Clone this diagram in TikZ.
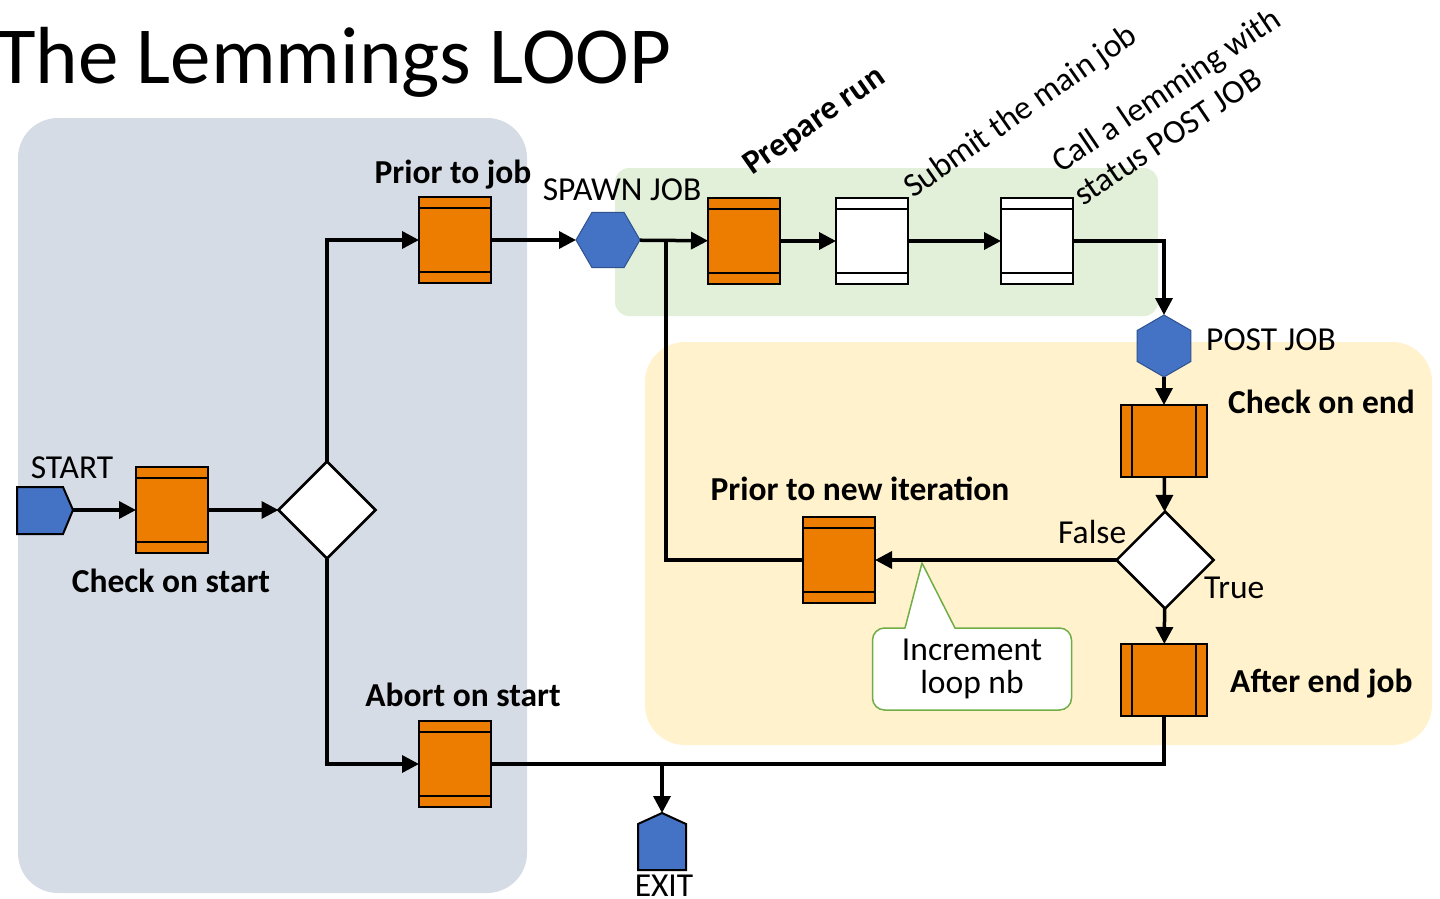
\documentclass[tikz,border=0pt]{standalone}
\usepackage{fontspec}
\setmainfont{Carlito}
\usetikzlibrary{arrows.meta,shapes.geometric}
\definecolor{panelblue}{RGB}{214,220,229}
\definecolor{panelgreen}{RGB}{226,240,217}
\definecolor{panelyellow}{RGB}{255,242,204}
\definecolor{procorange}{RGB}{237,125,0}
\definecolor{termblue}{RGB}{68,114,196}
\definecolor{termborder}{RGB}{47,82,143}
\definecolor{calloutgreen}{RGB}{112,173,71}
\begin{document}
\begin{tikzpicture}[x=1pt,y=-1pt,
  lbl/.style={font=\fontsize{33.5}{40}\selectfont, inner sep=0pt},
  blbl/.style={font=\bfseries\fontsize{33.5}{40}\selectfont, inner sep=0pt},
  proc/.style={rectangle, draw=black, line width=2.5pt, fill=procorange, inner sep=0pt, outer sep=0pt},
  hproc/.style={proc, minimum width=72pt, minimum height=86pt,
    path picture={\draw[line width=2.5pt]
      ([yshift=-11pt]path picture bounding box.north west) -- ([yshift=-11pt]path picture bounding box.north east)
      ([yshift=11pt]path picture bounding box.south west) -- ([yshift=11pt]path picture bounding box.south east);}},
  vproc/.style={proc, minimum width=86pt, minimum height=72pt,
    path picture={\draw[line width=2.5pt]
      ([xshift=11pt]path picture bounding box.north west) -- ([xshift=11pt]path picture bounding box.south west)
      ([xshift=-11pt]path picture bounding box.north east) -- ([xshift=-11pt]path picture bounding box.south east);}},
  whitebox/.style={hproc, fill=white},
  decision/.style={diamond, draw=black, line width=2.5pt, fill=white, minimum width=97pt, minimum height=97pt, inner sep=0pt, outer sep=0pt},
  hexa/.style={regular polygon, regular polygon sides=6, fill=termblue, draw=termborder, line width=1pt, inner sep=0pt, outer sep=0pt},
  term/.style={fill=termblue, draw=black, line width=2pt, line join=miter},
  arr/.style={line width=3.5pt, -{Triangle[length=17pt,width=17pt]}},
  ln/.style={line width=3.5pt},
  callout/.style={rectangle, rounded corners=12pt, draw=calloutgreen, line width=1.5pt, fill=white, minimum width=199pt, minimum height=82pt, align=center, font=\fontsize{33.5}{33}\selectfont}
]
\useasboundingbox (0,0) rectangle (1440,899);

% panels
\fill[panelblue, rounded corners=40pt] (18,118) rectangle (527,893);
\fill[panelgreen, rounded corners=14pt] (615,168) rectangle (1158,316);
\fill[panelyellow, rounded corners=40pt] (645,342) rectangle (1432,745);

% title
\node[anchor=base west, inner sep=0pt, font=\fontsize{81}{96}\selectfont] (title) at (-4,84) {The Lemmings LOOP};

% terminal shapes (START, EXIT)
\draw[term] (17,487) -- (63,487) -- (73,510) -- (63,534) -- (17,534) -- cycle;
\coordinate (start) at (73,510);
\draw[term] (638,870) -- (638,824) -- (662,813) -- (686,824) -- (686,870) -- cycle;
\coordinate (exit) at (662,813);

% nodes
\node[hproc] (cstart) at (172,510) {};
\node[decision] (d1) at (327,510) {};
\node[hproc] (prior) at (455,240) {};
\node[hproc] (abort) at (455,764) {};
\node[hexa, minimum size=64pt] (spawn) at (608,240) {};
\node[hproc] (prep) at (744,241) {};
\node[whitebox] (sub) at (872,241) {};
\node[whitebox] (call) at (1037,241) {};
\node[hexa, shape border rotate=90, minimum size=62pt] (post) at (1164,346) {};
\node[vproc] (cend) at (1164,441) {};
\node[decision] (d2) at (1165,560) {};
\node[vproc] (aend) at (1164,680) {};
\node[hproc] (newit) at (839,560) {};

% connectors
\draw[arr] (start) -- (cstart);
\draw[arr] (cstart) -- (d1);
\draw[arr] (d1.north) |- (prior.west);
\draw[arr] (d1.south) |- (abort.west);
\draw[arr] (prior) -- (spawn);
\draw[arr] (spawn) -- (prep);
\draw[arr] (prep) -- (sub);
\draw[arr] (sub) -- (call);
\draw[arr] (call.east) -| (post.north);
\draw[arr] (post) -- (cend);
\draw[arr] (cend) -- (d2);
\draw[arr] (d2) -- (aend);
\draw[arr] (d2.west) -- (newit.east);
\coordinate (join) at (666,240);
\draw[ln] (newit.west) -| (join);
\draw[ln] (abort.east) -| (aend.south);
\coordinate (exitjoin) at (exit |- abort.east);
\draw[arr] (exitjoin) -- (exit);

% callout
\node[callout] (inc) at (972,669) {Increment\\loop nb};
\fill[white] (905,630) -- (922,563) -- (955,630) -- cycle;
\draw[calloutgreen, line width=1.5pt, line join=round] (905,628) -- (922,563) -- (955,628);

% labels
\node[lbl, anchor=base] (lstart) at (72,478) {START};
\node[blbl, anchor=base] (lcstart) at (171,592) {Check on start};
\node[blbl, anchor=base] (lprior) at (453,183) {Prior to job};
\node[lbl, anchor=base] (lspawn) at (622,200) {SPAWN JOB};
\node[blbl, anchor=base west, rotate=35] (lprep) at (752,176) {Prepare run};
\node[lbl, anchor=base west, rotate=35] (lsub) at (913,199) {Submit the main job};
\node[lbl, anchor=base west, rotate=34] (lcall1) at (1061,174) {Call a lemming with};
\node[lbl, anchor=base west, rotate=34] (lcall2) at (1083,207) {status POST JOB};
\node[lbl, anchor=base west] (lpost) at (1206,350) {POST JOB};
\node[blbl, anchor=base west] (lcend) at (1228,413) {Check on end};
\node[blbl, anchor=base] (lnewit) at (860,500) {Prior to new iteration};
\node[lbl, anchor=base west] (lfalse) at (1058,543) {False};
\node[lbl, anchor=base west] (ltrue) at (1204,598) {True};
\node[blbl, anchor=base west] (laend) at (1230,692) {After end job};
\node[blbl, anchor=base] (labort) at (463,706) {Abort on start};
\node[lbl, anchor=base] (lexit) at (664,896) {EXIT};
\end{tikzpicture}
\end{document}
